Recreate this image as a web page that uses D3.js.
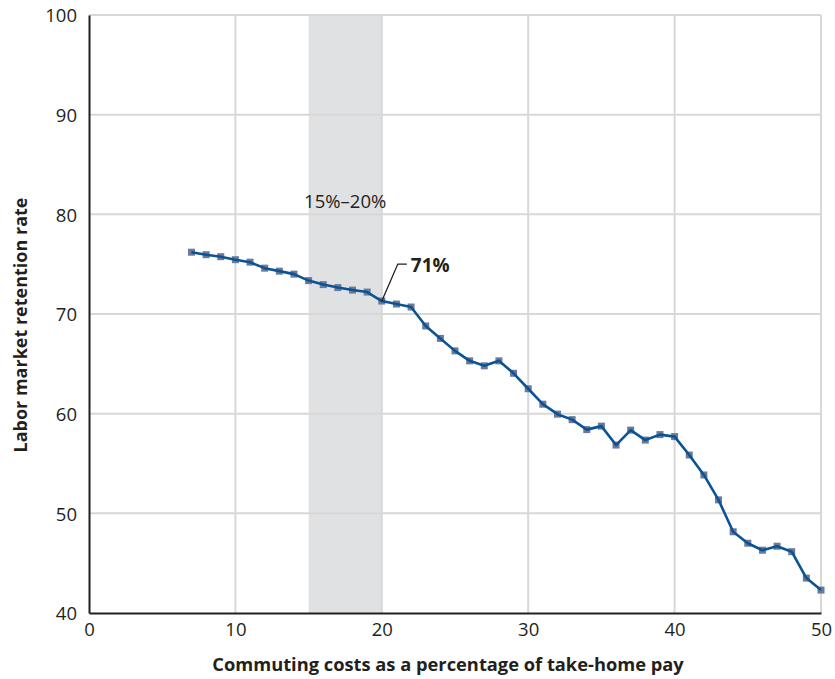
<!DOCTYPE html>
<html>
  <head>
    <meta charset="UTF-8">
    <title>Labor market retention vs commuting costs</title>
    <style>
      body { margin: 0; background: #fff; }
      text { font-family: "Open Sans", "Noto Sans", sans-serif; fill: #231f20; }
    </style>
  </head>
  <body>
    <svg class="chart"></svg>
    <script src="https://d3js.org/d3.v7.min.js"></script>
    <script>

/* DATA */

// commuting costs, % of take-home pay
var costs = [7, 8, 9, 10, 11, 12, 13, 14, 15, 16, 17, 18, 19, 20,
  21, 22, 23, 24, 25, 26, 27, 28, 29, 30, 31, 32, 33, 34, 35,
  36, 37, 38, 39, 40, 41, 42, 43, 44, 45, 46, 47, 48, 49, 50];

// labor market retention rate
var retention = [76.2, 75.95, 75.75, 75.45, 75.2, 74.6, 74.3, 74.0, 73.35, 72.95, 72.65, 72.4, 72.2, 71.3,
  71.0, 70.7, 68.8, 67.55, 66.3, 65.3, 64.8, 65.3, 64.05, 62.5, 60.95, 59.95, 59.4, 58.4, 58.75,
  56.85, 58.35, 57.35, 57.9, 57.7, 55.85, 53.85, 51.35, 48.15, 47.0, 46.3, 46.7, 46.15, 43.5, 42.3];

var xTicks = [0, 10, 20, 30, 40, 50];
var yTicks = [40, 50, 60, 70, 80, 90, 100];
var band = [15, 20];
var bandLabel = "15%–20%";
var callout = { x: 20, y: 71.3, label: "71%" };

var xTitle = "Commuting costs as a percentage of take-home pay";
var yTitle = "Labor market retention rate";

/* CHART */

var width = 835, height = 679;
var margin = { top: 15, right: 14, bottom: 66, left: 89 };

var svg = d3.select("svg")
  .attr("width", width)
  .attr("height", height);

var x = d3.scaleLinear().domain([0, 50]).range([margin.left, width - margin.right]);
var y = d3.scaleLinear().domain([40, 100]).range([height - margin.bottom, margin.top]);

// shaded 15-20 band
svg.append("rect")
  .attr("x", x(band[0]))
  .attr("y", y(100))
  .attr("width", x(band[1]) - x(band[0]))
  .attr("height", y(40) - y(100))
  .attr("fill", "#e0e1e3");

// grid
svg.append("g")
  .selectAll("line")
  .data(xTicks.slice(1))
  .enter().append("line")
    .attr("x1", function(d) { return x(d); })
    .attr("x2", function(d) { return x(d); })
    .attr("y1", y(100))
    .attr("y2", y(40))
    .attr("stroke", "#d8d8d8")
    .attr("stroke-width", 2);

svg.append("g")
  .selectAll("line")
  .data(yTicks.slice(1))
  .enter().append("line")
    .attr("x1", x(0))
    .attr("x2", x(50))
    .attr("y1", function(d) { return y(d); })
    .attr("y2", function(d) { return y(d); })
    .attr("stroke", "#d8d8d8")
    .attr("stroke-width", 2);

// axes
var xAxis = svg.append("g")
  .attr("transform", "translate(0," + y(40) + ")")
  .call(d3.axisBottom(x).tickValues(xTicks).tickSize(0).tickPadding(10));

var yAxis = svg.append("g")
  .attr("transform", "translate(" + x(0) + ",0)")
  .call(d3.axisLeft(y).tickValues(yTicks).tickSize(0).tickPadding(12));

[xAxis, yAxis].forEach(function(a) {
  a.select(".domain").attr("stroke", "#231f20").attr("stroke-width", 2);
  a.selectAll("text")
    .style("font-family", "'Open Sans', sans-serif")
    .style("font-size", "18.5px")
    .attr("fill", "#231f20");
});
yAxis.selectAll("text").attr("dy", "0.36em");

// band label
svg.append("text")
  .attr("x", (x(band[0]) + x(band[1])) / 2)
  .attr("y", 208)
  .attr("text-anchor", "middle")
  .style("font-size", "18.5px")
  .attr("fill", "#333")
  .text(bandLabel);

// markers under the line
var sq = 7;
svg.append("g")
  .selectAll("rect")
  .data(costs)
  .enter().append("rect")
    .attr("x", function(d) { return x(d) - sq / 2; })
    .attr("y", function(d, i) { return y(retention[i]) - sq / 2; })
    .attr("width", sq)
    .attr("height", sq)
    .attr("fill", "#6a7a9a");

var line = d3.line()
  .x(function(d) { return x(d); })
  .y(function(d, i) { return y(retention[i]); });

svg.append("path")
  .datum(costs)
  .attr("d", line)
  .attr("fill", "none")
  .attr("stroke", "#0b5394")
  .attr("stroke-width", 2.6)
  .attr("stroke-linejoin", "round");

// callout for 20%
var cx = x(callout.x), cy = y(callout.y);
svg.append("path")
  .attr("d", "M" + cx + "," + cy + "L" + (cx + 16) + "," + (cy - 37) + "L" + (cx + 25) + "," + (cy - 37))
  .attr("fill", "none")
  .attr("stroke", "#231f20")
  .attr("stroke-width", 1.3);

svg.append("text")
  .attr("x", cx + 29)
  .attr("y", cy - 29)
  .style("font-size", "19px")
  .style("font-weight", "bold")
  .text(callout.label);

// axis titles
svg.append("text")
  .attr("x", 448)
  .attr("y", 671)
  .attr("text-anchor", "middle")
  .style("font-size", "18.3px")
  .style("font-weight", "bold")
  .text(xTitle);

svg.append("text")
  .attr("transform", "translate(27,325) rotate(-90)")
  .attr("text-anchor", "middle")
  .style("font-size", "18px")
  .style("font-weight", "bold")
  .text(yTitle);

    </script>
  </body>
</html>
